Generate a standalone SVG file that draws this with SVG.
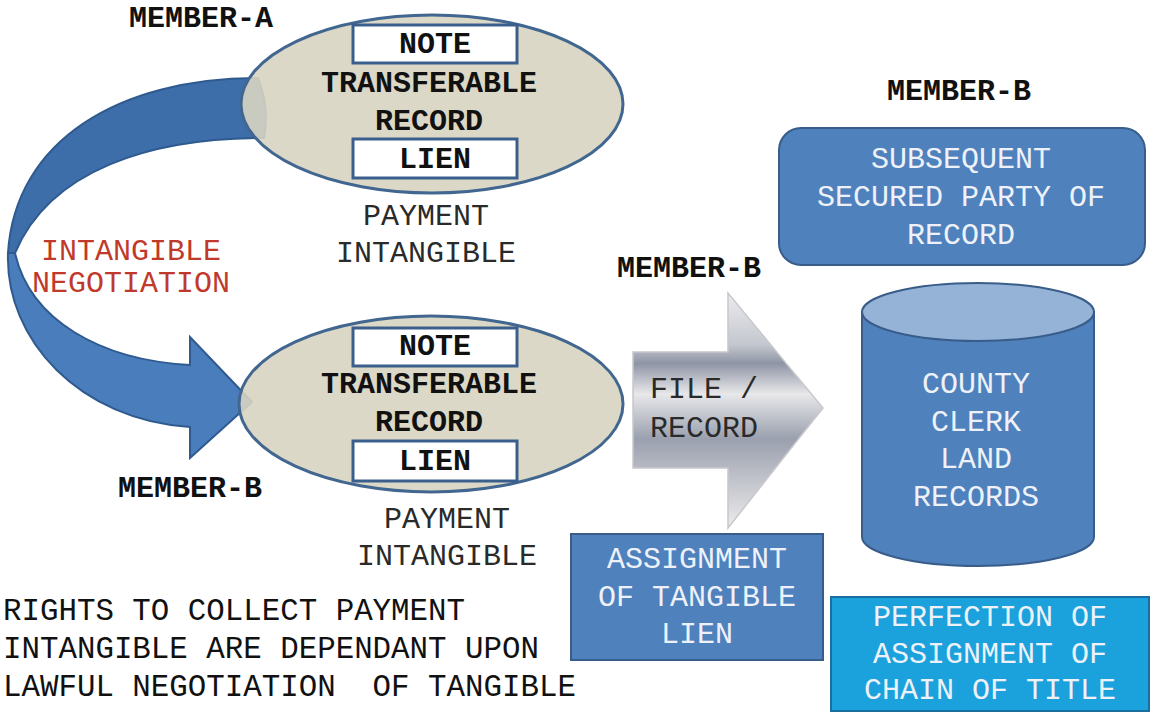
<svg xmlns="http://www.w3.org/2000/svg" width="1151" height="713" viewBox="0 0 1151 713">
<defs>
<style>
text{font-family:"Liberation Mono","Courier New",monospace;font-size:30px;text-anchor:middle}
.b{font-weight:bold;fill:#111}
.thin{fill:#2a2a2a}
.w{fill:#eef2f8}
.red{fill:#c0392b}
.ell{fill:#d8d4c2;fill-opacity:0.9;stroke:#41668f;stroke-width:3}
.inbox{fill:#fff;stroke:#3a5f8c;stroke-width:3}
.blue{fill:#4f81bd;stroke:#385d8a;stroke-width:2}
.para{text-anchor:start;font-size:30.8px;fill:#111;white-space:pre}
</style>
<linearGradient id="metal" gradientUnits="userSpaceOnUse" x1="0" y1="293" x2="0" y2="528">
<stop offset="0" stop-color="#ececee"/>
<stop offset="0.22" stop-color="#c4c7cf"/>
<stop offset="0.3" stop-color="#8f95a5"/>
<stop offset="0.43" stop-color="#e8e8ea"/>
<stop offset="0.62" stop-color="#9aa0ae"/>
<stop offset="0.75" stop-color="#b7bac3"/>
<stop offset="1" stop-color="#ececec"/>
</linearGradient>
</defs>
<rect width="1151" height="713" fill="#fff"/>

<g id="connectors">
<path id="curved-arrow-back" d="M258,78 C120,78 15,140 8,253 L15,253 C50,170 150,138 264,138 Q270,108 258,78 Z" fill="#3e6ea9" stroke="#2f5a8f" stroke-width="2"/>
<path id="curved-arrow-front" d="M8,253 C5,340 80,420 190,427 L190,458 L252,402 L190,337 L190,365 C100,360 30,320 15,253 Z" fill="#4a7dbb" stroke="#2f5a8f" stroke-width="2"/>
<path id="file-record-arrow" d="M633,352 L728,352 L728,293 L823,408 L728,528 L728,468 L633,468 Z" fill="url(#metal)" stroke="#c8c8cc" stroke-width="1.5"/>
</g>

<g id="member-a">
<text class="b" x="201" y="27">MEMBER-A</text>
<ellipse class="ell" cx="432" cy="104" rx="191" ry="89"/>
<rect class="inbox" x="353" y="25" width="164" height="38"/>
<text class="b" x="435" y="53">NOTE</text>
<text class="b" x="429" y="92">TRANSFERABLE</text>
<text class="b" x="429" y="130">RECORD</text>
<rect class="inbox" x="353" y="139" width="164" height="39"/>
<text class="b" x="435" y="168">LIEN</text>
<text class="thin" x="426" y="225">PAYMENT</text>
<text class="thin" x="426" y="262">INTANGIBLE</text>
</g>

<g id="negotiation-label">
<text class="red" x="131" y="260">INTANGIBLE</text>
<text class="red" x="131" y="292">NEGOTIATION</text>
</g>

<g id="member-b">
<ellipse class="ell" cx="431" cy="404" rx="192" ry="88"/>
<rect class="inbox" x="353" y="328" width="164" height="38"/>
<text class="b" x="435" y="355">NOTE</text>
<text class="b" x="429" y="393">TRANSFERABLE</text>
<text class="b" x="429" y="431">RECORD</text>
<rect class="inbox" x="353" y="441" width="164" height="40"/>
<text class="b" x="435" y="470">LIEN</text>
<text class="b" x="190" y="497">MEMBER-B</text>
<text class="thin" x="447" y="528">PAYMENT</text>
<text class="thin" x="447" y="565">INTANGIBLE</text>
</g>

<g id="file-record-label">
<text class="thin" x="650" y="398" style="text-anchor:start">FILE /</text>
<text class="thin" x="650" y="437" style="text-anchor:start">RECORD</text>
<text class="b" x="689" y="277">MEMBER-B</text>
</g>

<g id="subsequent-party">
<text class="b" x="959" y="100">MEMBER-B</text>
<rect class="blue" x="779" y="128" width="366" height="137" rx="22"/>
<text class="w" x="961" y="168">SUBSEQUENT</text>
<text class="w" x="961" y="206">SECURED PARTY OF</text>
<text class="w" x="961" y="244">RECORD</text>
</g>

<g id="county-clerk">
<path class="blue" d="M862,312 L862,537 A116,29 0 0 0 1094,537 L1094,312 Z"/>
<ellipse cx="978" cy="312" rx="116" ry="29" fill="#95b3d7" stroke="#385d8a" stroke-width="2"/>
<text class="w" x="976" y="393">COUNTY</text>
<text class="w" x="976" y="431">CLERK</text>
<text class="w" x="976" y="468">LAND</text>
<text class="w" x="976" y="506">RECORDS</text>
</g>

<g id="assignment">
<rect class="blue" x="571" y="534" width="252" height="126"/>
<text class="w" x="697" y="568">ASSIGNMENT</text>
<text class="w" x="697" y="606">OF TANGIBLE</text>
<text class="w" x="697" y="643">LIEN</text>
</g>

<g id="perfection">
<rect x="831" y="597" width="318" height="114" fill="#1ba1dc" stroke="#1a6fa0" stroke-width="2"/>
<text class="w" x="990" y="626">PERFECTION OF</text>
<text class="w" x="990" y="663">ASSIGNMENT OF</text>
<text class="w" x="990" y="699">CHAIN OF TITLE</text>
</g>

<g id="note-text">
<text class="para" x="3" y="620">RIGHTS TO COLLECT PAYMENT</text>
<text class="para" x="3" y="658">INTANGIBLE ARE DEPENDANT UPON</text>
<text class="para" x="3" y="696" xml:space="preserve">LAWFUL NEGOTIATION  OF TANGIBLE</text>
</g>
</svg>
